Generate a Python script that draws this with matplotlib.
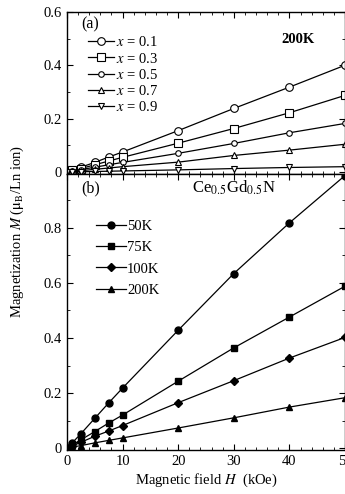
"""
Magnetização vs campo: painel (a) para vários x a 200K, painel (b) Ce0.5Gd0.5N
"""

import matplotlib
matplotlib.use("Agg")
import matplotlib.pyplot as plt
from matplotlib.ticker import MultipleLocator

# campo magnético (kOe)
field = [0, 1, 2.5, 5, 7.5, 10, 20, 30, 40, 50]

# painel (a): 200K, composição x
comp_labels = ["0.1", "0.3", "0.5", "0.7", "0.9"]
m_x01 = [0, 0.008, 0.018, 0.036, 0.056, 0.075, 0.155, 0.238, 0.318, 0.400]
m_x03 = [0, 0.006, 0.013, 0.027, 0.041, 0.055, 0.108, 0.163, 0.222, 0.287]
m_x05 = [0, 0.004, 0.009, 0.018, 0.027, 0.036, 0.070, 0.107, 0.147, 0.182]
m_x07 = [0, 0.002, 0.005, 0.010, 0.015, 0.020, 0.037, 0.062, 0.082, 0.104]
m_x09 = [0, 0.000, 0.001, 0.002, 0.003, 0.004, 0.008, 0.013, 0.017, 0.020]

# painel (b): Ce0.5Gd0.5N, temperaturas
temp_labels = ["50K", "75K", "100K", "200K"]
m_50k = [0, 0.020, 0.052, 0.108, 0.164, 0.218, 0.428, 0.634, 0.818, 0.990]
m_75k = [0, 0.012, 0.030, 0.060, 0.091, 0.120, 0.243, 0.364, 0.476, 0.588]
m_100k = [0, 0.008, 0.021, 0.043, 0.062, 0.082, 0.165, 0.245, 0.327, 0.402]
m_200k = [0, 0.004, 0.009, 0.019, 0.028, 0.037, 0.073, 0.110, 0.149, 0.183]

plt.rcParams['font.family'] = ['Liberation Serif', 'DejaVu Serif']
plt.rcParams['mathtext.fontset'] = 'stix'
FS = 10.5


def style_axes(ax):
    ax.tick_params(which='both', direction='in', top=True, right=True, labelsize=FS)
    ax.tick_params(which='major', length=4, width=0.8)
    ax.tick_params(which='minor', length=2, width=0.6)
    ax.xaxis.set_major_locator(MultipleLocator(10))
    ax.xaxis.set_minor_locator(MultipleLocator(2))
    ax.yaxis.set_major_locator(MultipleLocator(0.2))
    ax.yaxis.set_minor_locator(MultipleLocator(0.1))
    ax.yaxis.set_major_formatter(plt.FuncFormatter(lambda v, p: "0" if abs(v) < 1e-9 else f"{v:.1f}"))
    for s in ax.spines.values():
        s.set_linewidth(1.0)


fig = plt.figure(figsize=(3.45, 4.94), dpi=100)
ax_a = fig.add_axes([0.194, 0.648, 0.806, 0.328])
ax_b = fig.add_axes([0.194, 0.089, 0.806, 0.559])

# painel (a)
open_kw = dict(color='black', lw=0.9, mfc='white', mec='black', mew=0.8)
series_a = [m_x01, m_x03, m_x05, m_x07, m_x09]
markers_a = ['o', 's', 'o', '^', 'v']
sizes_a = [5.5, 5.5, 4, 4.5, 4.5]
for vals, lab, mk, ms in zip(series_a, comp_labels, markers_a, sizes_a):
    ax_a.plot(field, vals, marker=mk, ms=ms, label=f"$x$ = {lab}", clip_on=True, **open_kw)

ax_a.set_xlim(0, 50)
ax_a.set_ylim(-0.007, 0.6)
style_axes(ax_a)
ax_a.tick_params(labelbottom=False)
ax_a.text(0.05, 0.97, "(a)", transform=ax_a.transAxes, fontsize=FS + 1, va='top')
ax_a.text(0.89, 0.83, "200K", transform=ax_a.transAxes, fontsize=FS, fontweight='bold',
          ha='right', va='center')
ax_a.legend(loc='upper left', bbox_to_anchor=(0.05, 0.90), frameon=False, fontsize=FS,
            handlelength=1.8, handletextpad=0.1, labelspacing=0.15, borderpad=0)

# painel (b)
series_b = [m_50k, m_75k, m_100k, m_200k]
markers_b = ['o', 's', 'D', '^']
sizes_b = [5, 5, 3.8, 4.5]
for vals, lab, mk, ms in zip(series_b, temp_labels, markers_b, sizes_b):
    ax_b.plot(field, vals, marker=mk, ms=ms, color='black', lw=0.9, label=lab)

ax_b.set_xlim(0, 50)
ax_b.set_ylim(-0.007, 0.996)
style_axes(ax_b)
ax_b.set_yticks([0, 0.2, 0.4, 0.6, 0.8])
ax_b.text(0.05, 0.975, "(b)", transform=ax_b.transAxes, fontsize=FS + 1, va='top')
ax_b.text(0.45, 0.95, r"Ce$_{0.5}$Gd$_{0.5}$N", transform=ax_b.transAxes, fontsize=FS + 1.5,
          va='center')
ax_b.legend(loc='upper left', bbox_to_anchor=(0.08, 0.86), frameon=False, fontsize=FS,
            handlelength=2.0, handletextpad=0.1, labelspacing=0.55, borderpad=0)
ax_b.set_xlabel(r"Magnetic field $H$  (kOe)", fontsize=FS, labelpad=3)

fig.text(0.05, 0.532, r"Magnetization $M$ ($\mathrm{\mu_B}$/Ln ion)", rotation=90,
         ha='center', va='center', fontsize=FS)

fig.savefig("out.png", dpi=100)
